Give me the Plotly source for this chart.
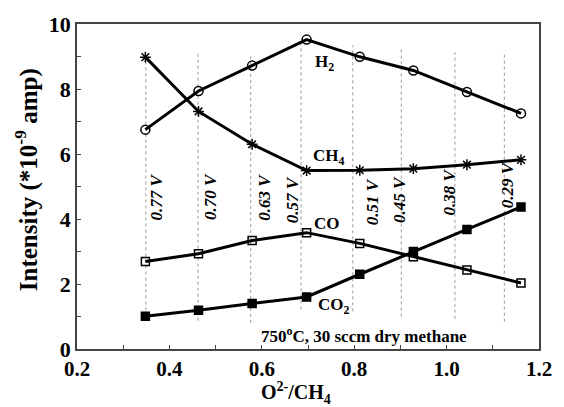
import plotly.graph_objects as go

ratio = [0.348, 0.463, 0.579, 0.697, 0.812, 0.928, 1.044, 1.161]
h2 = [6.75, 7.94, 8.72, 9.52, 8.99, 8.57, 7.91, 7.25]
ch4 = [8.98, 7.31, 6.30, 5.49, 5.50, 5.55, 5.67, 5.82]
co = [2.69, 2.93, 3.34, 3.58, 3.25, 2.84, 2.43, 2.03]
co2 = [1.01, 1.19, 1.40, 1.60, 2.30, 3.00, 3.68, 4.37]

volt_x = [0.349, 0.462, 0.576, 0.685, 0.797, 0.902, 1.018, 1.125]
volt_top = [9.0, 9.13, 9.0, 9.43, 9.34, 9.28, 9.13, 9.13]
volt_bot = [1.0, 0.87, 0.8, 1.22, 1.16, 1.0, 0.93, 0.84]
volt_labels = ["0.77 V", "0.70 V", "0.63 V", "0.57 V", "0.51 V", "0.45 V", "0.38 V", "0.29 V"]
volt_lx = [0.373, 0.489, 0.605, 0.667, 0.840, 0.898, 1.007, 1.131]
volt_ly = [4.69, 4.69, 4.66, 4.60, 4.54, 4.60, 4.84, 5.04]

FONT = "Liberation Serif"

fig = go.Figure()

for x, y0, y1 in zip(volt_x, volt_bot, volt_top):
    fig.add_trace(go.Scatter(x=[x, x], y=[y0, y1], mode="lines",
                             line=dict(color="#999999", width=1, dash="dot"),
                             showlegend=False, hoverinfo="skip"))

series = [
    (h2, "circle-open", 9),
    (ch4, "asterisk-open", 9),
    (co, "square-open", 8),
    (co2, "square", 8),
]
for ys, sym, sz in series:
    fig.add_trace(go.Scatter(
        x=ratio, y=ys, mode="lines+markers",
        line=dict(color="black", width=3),
        marker=dict(symbol=sym, size=sz, color="black",
                    line=dict(color="black", width=1.5)),
        showlegend=False))

annotations = []
for lx, ly, t in zip(volt_lx, volt_ly, volt_labels):
    annotations.append(dict(x=lx, y=ly, text=t, showarrow=False, textangle=-90,
                            font=dict(family=FONT, size=17, color="black",
                                      weight="bold", style="italic")))

labels = [
    (0.735, 8.80, "H<sub>2</sub>"),
    (0.746, 5.90, "CH<sub>4</sub>"),
    (0.742, 3.85, "CO"),
    (0.757, 1.31, "CO<sub>2</sub>"),
    (0.821, 0.42, "750<sup>o</sup>C, 30 sccm dry methane"),
]
for x, y, t in labels:
    annotations.append(dict(x=x, y=y, text=t, showarrow=False,
                            font=dict(family=FONT, size=17, color="black", weight="bold")))

annotations.append(dict(xref="paper", yref="paper", x=-0.15, y=0.52,
                        text="Intensity (*10<sup>-9</sup> amp)", textangle=-90,
                        showarrow=False,
                        font=dict(family=FONT, size=25, color="black", weight="bold")))
annotations.append(dict(xref="paper", yref="paper", x=0.475, y=-0.136, yanchor="middle",
                        text="O<sup>2-</sup>/CH<sub>4</sub>",
                        showarrow=False,
                        font=dict(family=FONT, size=20, color="black", weight="bold")))

fig.update_layout(
    width=564, height=407,
    margin=dict(l=77, r=20, t=14, b=58),
    paper_bgcolor="white", plot_bgcolor="white",
    annotations=annotations,
    font=dict(family=FONT, color="black"),
)
fig.update_xaxes(range=[0.2, 1.2], dtick=0.2, tick0=0.2, tickformat=".1f",
                 ticks="inside", ticklen=4, tickcolor="#444",
                 minor=dict(dtick=0.1, ticks="inside", ticklen=4, tickcolor="#444"),
                 showline=True, linecolor="#444", linewidth=1.5, mirror=True,
                 showgrid=False, zeroline=False,
                 tickfont=dict(family=FONT, size=21, color="black", weight="bold"))
fig.update_yaxes(range=[0, 10], dtick=2, tick0=0,
                 ticks="inside", ticklen=4, tickcolor="#444",
                 minor=dict(dtick=1, ticks="inside", ticklen=4, tickcolor="#444"),
                 showline=True, linecolor="#444", linewidth=1.5, mirror=True,
                 showgrid=False, zeroline=False,
                 tickfont=dict(family=FONT, size=22, color="black", weight="bold"))

fig.write_html("out.html")
